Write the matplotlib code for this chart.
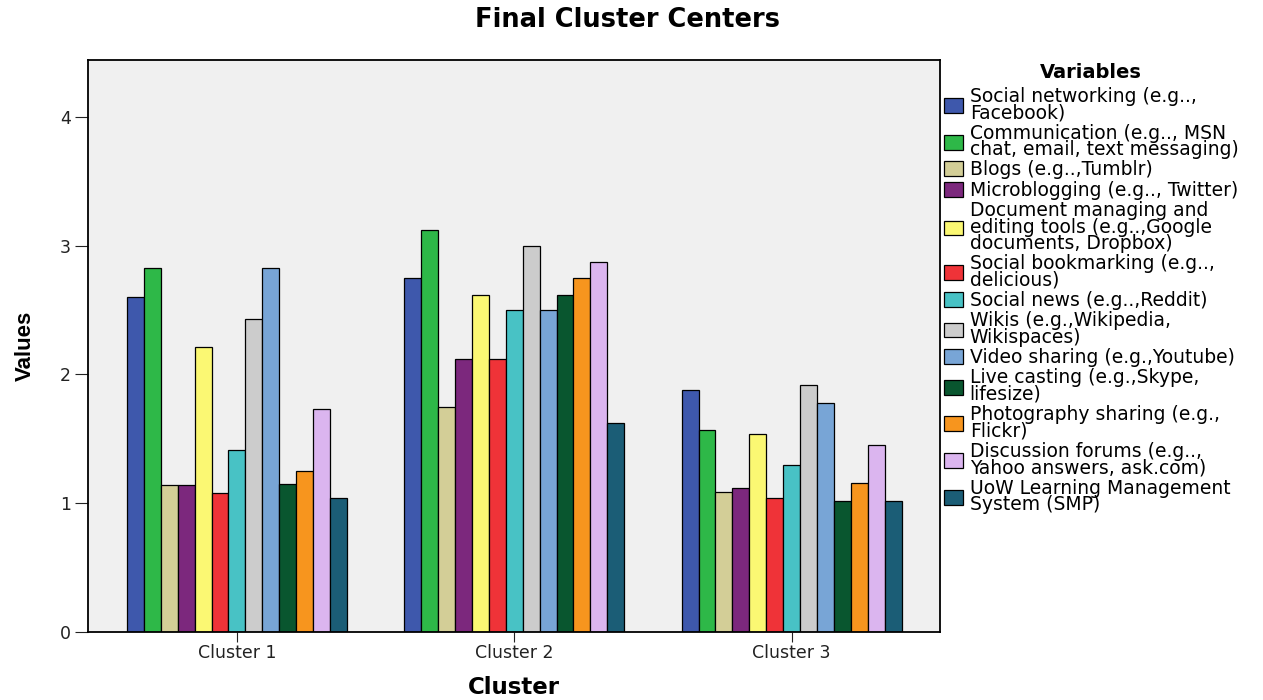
import numpy as np
import matplotlib.pyplot as plt

plt.rcParams['font.family'] = ['DejaVu Sans']

clusters = ["Cluster 1", "Cluster 2", "Cluster 3"]

variables = [
    "Social networking (e.g..,\nFacebook)",
    "Communication (e.g.., MSN\nchat, email, text messaging)",
    "Blogs (e.g..,Tumblr)",
    "Microblogging (e.g.., Twitter)",
    "Document managing and\nediting tools (e.g..,Google\ndocuments, Dropbox)",
    "Social bookmarking (e.g..,\ndelicious)",
    "Social news (e.g..,Reddit)",
    "Wikis (e.g.,Wikipedia,\nWikispaces)",
    "Video sharing (e.g.,Youtube)",
    "Live casting (e.g.,Skype,\nlifesize)",
    "Photography sharing (e.g.,\nFlickr)",
    "Discussion forums (e.g..,\nYahoo answers, ask.com)",
    "UoW Learning Management\nSystem (SMP)",
]

# one row per variable: values for cluster 1, 2, 3
centers = [
    [2.60, 2.75, 1.88],
    [2.83, 3.12, 1.57],
    [1.14, 1.75, 1.09],
    [1.14, 2.12, 1.12],
    [2.21, 2.62, 1.54],
    [1.08, 2.12, 1.04],
    [1.41, 2.50, 1.30],
    [2.43, 3.00, 1.92],
    [2.83, 2.50, 1.78],
    [1.15, 2.62, 1.02],
    [1.25, 2.75, 1.16],
    [1.73, 2.87, 1.45],
    [1.04, 1.62, 1.02],
]

colors = ["#3e58ac", "#2eb848", "#d3ce97", "#7c287d", "#fbf873", "#ef3338",
          "#48c2c5", "#cccccc", "#78a5d6", "#09562f", "#f7951e", "#dbb5ef",
          "#1b5d76"]

fig = plt.figure(figsize=(12.63, 7.0), dpi=100)
ax = fig.add_axes([0.0697, 0.097, 0.6745, 0.817])
ax.set_facecolor("#f0f0f0")

x = np.arange(len(clusters))
n = len(variables)
w = 0.061
for i, (label, vals, col) in enumerate(zip(variables, centers, colors)):
    offs = (i - (n - 1) / 2) * w
    ax.bar(x + offs, vals, width=w, color=col, edgecolor="black",
           linewidth=0.9, label=label)

ax.set_xlim(-0.537, 2.535)
ax.set_ylim(0, 4.44)
ax.set_yticks([0, 1, 2, 3, 4])
ax.set_xticks(x)
ax.set_xticklabels(clusters)
ax.tick_params(axis='both', labelsize=12.5, direction='out', colors='#222222')
ax.tick_params(axis='y', length=9.5, pad=3)
ax.tick_params(axis='x', length=7, pad=1.5)
for s in ax.spines.values():
    s.set_linewidth(1.3)

ax.set_ylabel("Values", fontsize=16, fontweight='bold', labelpad=17,
              family='Liberation Sans')
ax.set_xlabel("Cluster", fontsize=16.5, fontweight='bold', labelpad=10)
fig.suptitle("Final Cluster Centers", fontsize=18.5, fontweight='bold',
             x=0.497, y=0.99)

leg = ax.legend(loc="upper left", bbox_to_anchor=(0.996, 1.008), frameon=False,
                fontsize=13.5, title="Variables",
                title_fontproperties={'weight': 'bold', 'size': 14},
                handlelength=1.0, handleheight=0.85, handletextpad=0.37,
                labelspacing=0.075, borderaxespad=0.3, borderpad=0.1)
leg._legend_box.sep = 3.5
for t in leg.get_texts():
    t.set_linespacing(0.82)

fig.savefig("out.png", dpi=100)
